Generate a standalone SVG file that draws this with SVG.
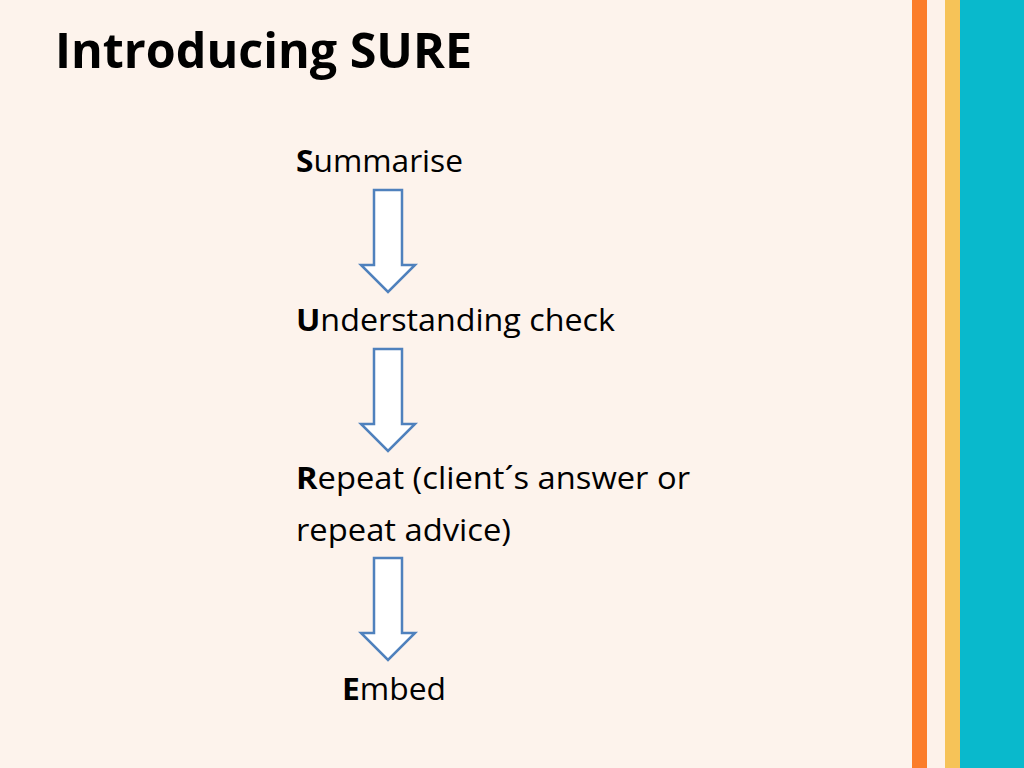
<svg xmlns="http://www.w3.org/2000/svg" width="1024" height="768" viewBox="0 0 1024 768">
<style>
.t{font-family:"Open Sans","Liberation Sans",sans-serif;font-size:31px;fill:#000}
.b{font-weight:bold}
.arrow{fill:#fff;stroke:#4f81bd;stroke-width:2.5;stroke-linejoin:miter}
</style>
<defs>
<path id="arr" class="arrow" d="M374,0 H402 V75 H415 L388,102 L361,75 H374 Z"/>
</defs>
<rect width="1024" height="768" fill="#fdf3ec"/>
<rect x="912" y="0" width="15" height="768" fill="#fb7d2a"/>
<rect x="927" y="0" width="18" height="768" fill="#fdf2ea"/>
<rect x="945" y="0" width="15" height="768" fill="#f6c358"/>
<rect x="960" y="0" width="64" height="768" fill="#09b9cc"/>
<g id="title"><text x="55" y="68" class="t b" style="font-size:48px" textLength="417" lengthAdjust="spacingAndGlyphs">Introducing SURE</text></g>
<g id="node-s"><text x="296" y="172" class="t" textLength="167" lengthAdjust="spacingAndGlyphs"><tspan class="b">S</tspan>ummarise</text></g>
<g id="node-u"><text x="296" y="331" class="t" textLength="319" lengthAdjust="spacingAndGlyphs"><tspan class="b">U</tspan>nderstanding check</text></g>
<g id="node-r"><text x="296" y="489" class="t" textLength="394" lengthAdjust="spacingAndGlyphs"><tspan class="b">R</tspan>epeat (client´s answer or</text>
<text x="296" y="541" class="t" textLength="215" lengthAdjust="spacingAndGlyphs">repeat advice)</text></g>
<g id="node-e"><text x="342" y="700" class="t" textLength="104" lengthAdjust="spacingAndGlyphs"><tspan class="b">E</tspan>mbed</text></g>
<g id="connectors">
<use href="#arr" y="190"/>
<use href="#arr" y="349"/>
<use href="#arr" y="558"/>
</g>
</svg>
